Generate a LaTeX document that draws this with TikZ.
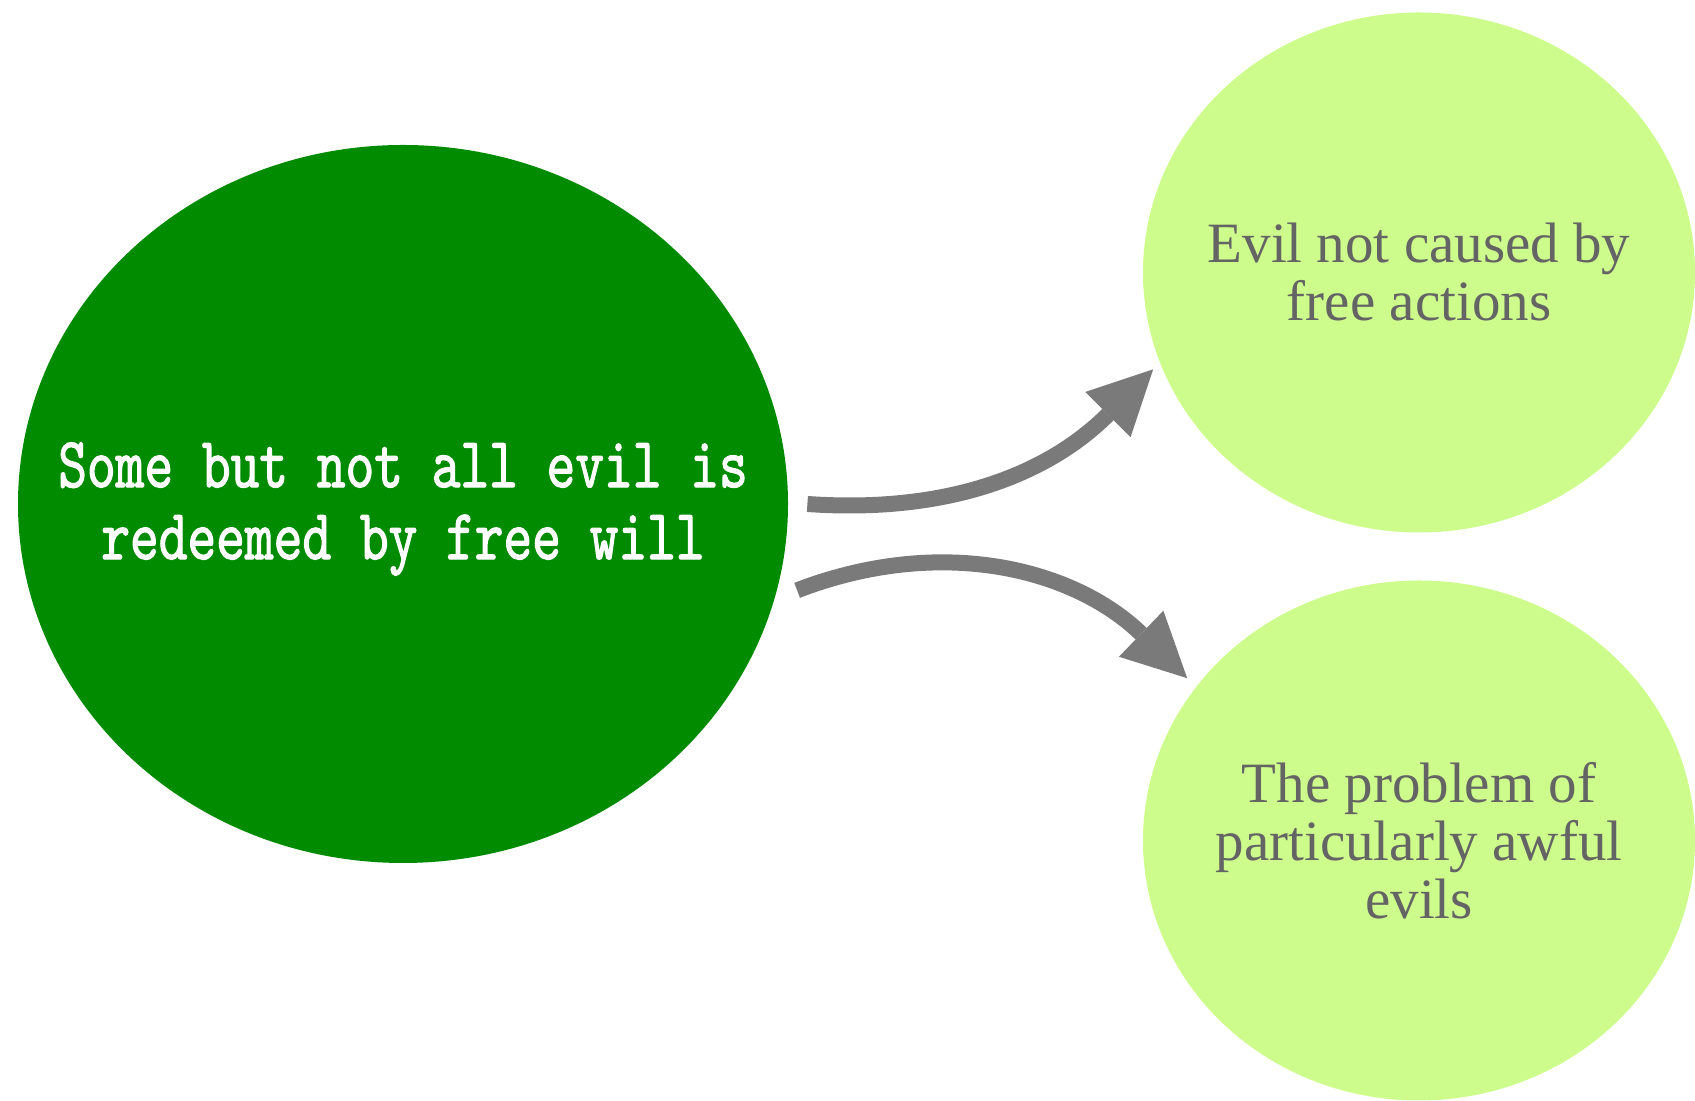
\documentclass[tikz,border=0pt]{standalone}
\usepackage{fontspec}
\usepackage{xcolor}
\definecolor{Col1}{RGB}{0,139,0}
\definecolor{Col2}{RGB}{205,252,140}
\definecolor{Col3}{RGB}{122,122,122}
\definecolor{Col4}{RGB}{100,100,100}
\newfontfamily\typefont[FakeStretch=0.76,FakeBold=1.5]{lmmono10-regular.otf}
\newfontfamily\bookfont{Liberation Serif}
\usepackage{tikz}
\usetikzlibrary{shapes.geometric}
\usetikzlibrary{arrows.meta}
\tikzstyle{Blob}=[ellipse,inner sep=0pt]
\tikzstyle{BigBlob}=[Blob,fill=Col1,minimum width=385pt,minimum height=359pt]
\tikzstyle{SmallBlob}=[Blob,fill=Col2,minimum width=276pt,minimum height=260pt]
\tikzstyle{BigText}=[text=white,align=center,
font=\typefont\fontsize{36pt}{36pt}\selectfont]
\tikzstyle{SmallText}=[text=Col4,align=center,
font=\bookfont\fontsize{28.5pt}{29pt}\selectfont]
\tikzstyle{Edge}=[draw=Col3,line width=8pt,
-{Triangle[length=32pt,width=32pt,line width=0pt]}]

\begin{document}
\begin{tikzpicture}[x=0.5pt,y=0.5pt]
            \useasboundingbox(0,0)rectangle(1695,1101);
            \node[BigBlob](redeem)at(403,597){};
            \node[SmallBlob](natural)at(1419,828.5){};
            \node[SmallBlob](awful)at(1419,260.5){};
            \node[BigText](redeemtext)at(403,592)
                {Some but not all evil is\\redeemed by free will};
            \node[SmallText](naturaltext)at(natural)
                {Evil not caused by\\free actions};
            \node[SmallText](awfultext)at(awful)
                {The problem of\\particularly awful\\evils};
            %
            \draw[Edge]([xshift=9.5pt]redeem.east)to[out=-4,in=225]
                ([shift={(-4pt,-1.5pt)}]natural.200);
            \draw[Edge]([xshift=10pt]redeem.-13)to[out=21,in=136]
                ([shift={(-5pt,3.5pt)}]awful.145);
        \end{tikzpicture}
\end{document}
